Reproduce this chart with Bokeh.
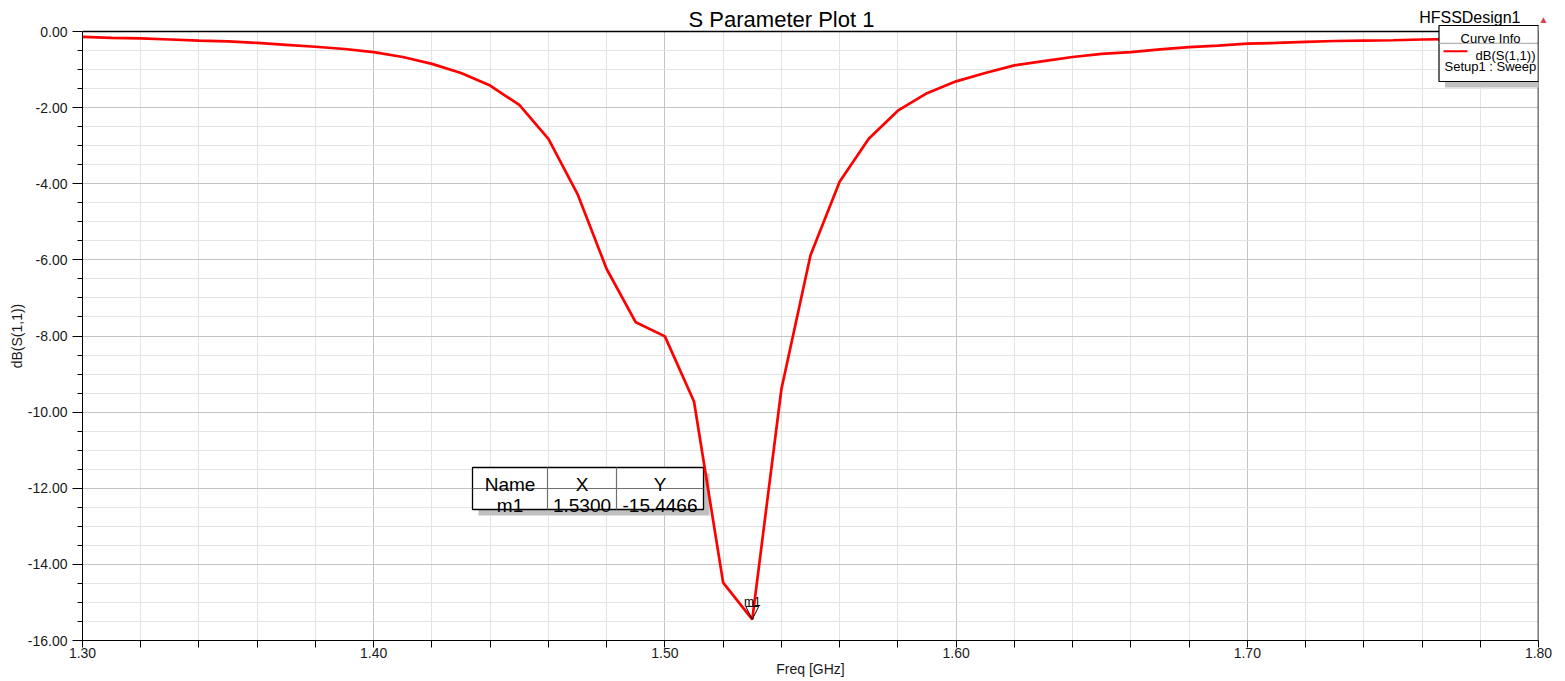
import math
from bokeh.plotting import figure
from bokeh.models import Range1d, FixedTicker, PrintfTickFormatter, Label
from bokeh.core.properties import value
from bokeh.embed import file_html
from bokeh.resources import INLINE

# ---------------- data ----------------
freq = [1.30, 1.31, 1.32, 1.33, 1.34, 1.35, 1.36, 1.37, 1.38, 1.39,
        1.40, 1.41, 1.42, 1.43, 1.44, 1.45, 1.46, 1.47, 1.48, 1.49,
        1.50, 1.51, 1.52, 1.53, 1.54, 1.55, 1.56, 1.57, 1.58, 1.59,
        1.60, 1.61, 1.62, 1.63, 1.64, 1.65, 1.66, 1.67, 1.68, 1.69,
        1.70, 1.71, 1.72, 1.73, 1.74, 1.75, 1.76, 1.77, 1.78, 1.79, 1.80]
s11_db = [-0.14, -0.17, -0.18, -0.21, -0.24, -0.26, -0.30, -0.35, -0.40, -0.46,
          -0.54, -0.67, -0.85, -1.09, -1.42, -1.93, -2.82, -4.27, -6.24, -7.64,
          -8.01, -9.72, -14.48, -15.4466, -9.40, -5.88, -3.95, -2.82, -2.08, -1.62,
          -1.31, -1.09, -0.89, -0.78, -0.67, -0.59, -0.54, -0.47, -0.41, -0.37,
          -0.32, -0.30, -0.27, -0.25, -0.24, -0.23, -0.21, -0.20, -0.19, -0.18, -0.17]

x_major_ticks = [1.30, 1.40, 1.50, 1.60, 1.70, 1.80]
x_minor_ticks = [1.32, 1.34, 1.36, 1.38, 1.42, 1.44, 1.46, 1.48, 1.52, 1.54, 1.56, 1.58,
                 1.62, 1.64, 1.66, 1.68, 1.72, 1.74, 1.76, 1.78]
y_major_ticks = [-16, -14, -12, -10, -8, -6, -4, -2, 0]
y_minor_ticks = [-15.5, -15, -14.5, -13.5, -13, -12.5, -11.5, -11, -10.5, -9.5, -9, -8.5,
                 -7.5, -7, -6.5, -5.5, -5, -4.5, -3.5, -3, -2.5, -1.5, -1, -0.5]

marker_name = "m1"
marker_freq = 1.53
marker_value = -15.4466
table_header = ["Name", "X", "Y"]
table_row = [marker_name, "%.4f" % marker_freq, "%.4f" % marker_value]

title_text = "S Parameter Plot 1"
design_text = "HFSSDesign1"
legend_title = "Curve Info"
curve_name = "dB(S(1,1))"
curve_setup = "Setup1 : Sweep"
x_label = "Freq [GHz]"
y_label = "dB(S(1,1))"

FONT = "Liberation Sans"
W, H = 1565, 681
BL, BR, BB = 82, 27, 41
AXT = 31                      # pixel row of the top of the axes box
X0, X1 = 1.30, 1.80
Y0, Y1 = -16.0, 0.0
FW = W - BL - BR
FH = H - BB                   # frame height (frame reaches the top edge)
AH = FH - AXT                 # height of the axes box in pixels
YTOP = Y1 + AXT * (Y1 - Y0) / AH


def px2x(px):
    return X0 + (px - BL) * (X1 - X0) / FW


def px2y(py):
    return Y1 - (py - AXT) * (Y1 - Y0) / AH


p = figure(width=W, height=H, output_backend="svg", toolbar_location=None,
           x_range=Range1d(X0, X1), y_range=Range1d(Y0, YTOP),
           min_border_left=BL, min_border_right=BR, min_border_top=0, min_border_bottom=BB)
p.title.visible = False
p.background_fill_color = "white"
p.border_fill_color = "white"
p.outline_line_color = None

xt = FixedTicker(ticks=x_major_ticks, minor_ticks=x_minor_ticks)
yt = FixedTicker(ticks=y_major_ticks, minor_ticks=y_minor_ticks)
p.xaxis.ticker = xt
p.yaxis.ticker = yt
p.xgrid.ticker = xt
p.ygrid.ticker = yt
p.xaxis.formatter = PrintfTickFormatter(format="%.2f")
p.yaxis.formatter = PrintfTickFormatter(format="%.2f")
p.yaxis.bounds = (Y0, Y1)

for g in (p.xgrid, p.ygrid):
    g.grid_line_color = "#c4c4c4"
    g.grid_line_width = 1
    g.minor_grid_line_color = "#e4e4e4"
    g.minor_grid_line_width = 1

for ax in (p.xaxis, p.yaxis):
    ax.axis_line_color = "black"
    ax.axis_line_width = 1
    ax.major_tick_line_color = "black"
    ax.minor_tick_line_color = "black"
    ax.major_tick_in = 0
    ax.minor_tick_in = 0
    ax.major_label_text_font = FONT
    ax.major_label_text_font_size = "14px"
    ax.major_label_text_color = "#1a1a1a"
    ax.axis_label_text_font = FONT
    ax.axis_label_text_font_size = "14px"
    ax.axis_label_text_font_style = "normal"
    ax.axis_label_text_color = "#1a1a1a"

p.xaxis.major_tick_out = 7
p.xaxis.minor_tick_out = 7
p.xaxis.major_label_standoff = 0
p.xaxis.axis_label = x_label
p.xaxis.axis_label_standoff = 0
p.yaxis.major_tick_out = 10
p.yaxis.minor_tick_out = 5
p.yaxis.major_label_standoff = 5

# y axis title, centred on the axes box (not on the taller frame)
p.add_layout(Label(x=8, y=FH - (AXT + AH / 2), x_units="screen", y_units="screen",
                   text=y_label, angle=math.pi / 2, text_font=FONT, text_font_size="14px",
                   text_align="center", text_baseline="middle", text_color="#1a1a1a"), "left")

# white band above the axes box (hides the grid there) + box top/right edges
p.quad(left=[X0], right=[X1], bottom=[Y1], top=[YTOP], fill_color="white", line_color=None)
p.segment(x0=[X0, X1], y0=[Y1, Y0], x1=[X1, X1], y1=[Y1, Y1], line_color="black", line_width=1.6)

# ---------------- marker table (under the curve) ----------------
tl, tr, tt, tb = 472, 703, 467, 509
tmid = 488
cols = [472, 547, 616, 703]
sh = 6
p.quad(left=[px2x(tl + sh)], right=[px2x(tr + sh)], top=[px2y(tt + sh)], bottom=[px2y(tb + sh)],
       fill_color="#c0c0c0", line_color=None)
p.quad(left=[px2x(tl)], right=[px2x(tr)], top=[px2y(tt)], bottom=[px2y(tb)],
       fill_color="white", line_color="black", line_width=1.3)
p.segment(x0=[px2x(tl), px2x(cols[1]), px2x(cols[2])],
          x1=[px2x(tr), px2x(cols[1]), px2x(cols[2])],
          y0=[px2y(tmid), px2y(tt), px2y(tt)],
          y1=[px2y(tmid), px2y(tb), px2y(tb)],
          line_color="#707070", line_width=1.2)
col_centers = [px2x((cols[i] + cols[i + 1]) / 2) for i in range(3)]
p.text(x=col_centers, y=[px2y(484)] * 3, text=table_header,
       text_font=value(FONT), text_font_size="19px", text_align="center",
       text_baseline="alphabetic", text_color="black")
p.text(x=col_centers, y=[px2y(505)] * 3, text=table_row,
       text_font=value(FONT), text_font_size="19px", text_align="center",
       text_baseline="alphabetic", text_color="black")

# ---------------- curve ----------------
p.line(freq, s11_db, line_color="#ff0000", line_width=2.7)

# ---------------- marker ----------------
dx = 6.5 * (X1 - X0) / FW
dy = 13 * (Y1 - Y0) / AH
mx = marker_freq
my = marker_value
p.patch(x=[mx - dx, mx + dx, mx], y=[my + dy, my + dy, my],
        fill_color=None, line_color="black", line_width=1)
p.text(x=[mx], y=[my + dy + 4 * (Y1 - Y0) / AH], text=[marker_name],
       text_font=value(FONT), text_font_size="12px", text_align="center",
       text_baseline="alphabetic", text_color="black")

# ---------------- title texts ----------------
p.text(x=[px2x(781)], y=[px2y(18.5)], text=[title_text],
       text_font=value(FONT), text_font_size="22px", text_align="center",
       text_baseline="alphabetic", text_color="black")
p.text(x=[px2x(1520)], y=[px2y(16.5)], text=[design_text],
       text_font=value(FONT), text_font_size="16px", text_align="right",
       text_baseline="alphabetic", text_color="black")
p.add_layout(Label(x=5, y=FH - 19, x_units="screen", y_units="screen",
                   text="\u25B2", text_font=FONT, text_font_size="10px",
                   text_align="center", text_baseline="alphabetic", text_color="#d84040"), "right")

# ---------------- curve info box ----------------
ll, lr, lt, lb = 1438.5, 1541, 25, 81
p.quad(left=[px2x(ll + 6)], right=[px2x(lr + 6)], top=[px2y(lt + 6)], bottom=[px2y(lb + 6)],
       fill_color="#c0c0c0", line_color=None)
p.quad(left=[px2x(ll)], right=[px2x(lr)], top=[px2y(lt)], bottom=[px2y(lb)],
       fill_color="white", line_color="black", line_width=1.2)
p.segment(x0=[px2x(ll)], x1=[px2x(lr)], y0=[px2y(42.8)], y1=[px2y(42.8)],
          line_color="#a0a0a0", line_width=1)
p.segment(x0=[px2x(1443)], x1=[px2x(1467)], y0=[px2y(50.7)], y1=[px2y(50.7)],
          line_color="#ff0000", line_width=2)
p.segment(x0=[X1], y0=[px2y(lb)], x1=[X1], y1=[px2y(lt)], line_color="black", line_width=1.6)
p.text(x=[px2x(1490)], y=[px2y(37.5)], text=[legend_title],
       text_font=value(FONT), text_font_size="13px", text_align="center",
       text_baseline="alphabetic", text_color="black")
p.text(x=[px2x(1535)], y=[px2y(55)], text=[curve_name],
       text_font=value(FONT), text_font_size="13px", text_align="right",
       text_baseline="alphabetic", text_color="black")
p.text(x=[px2x(1444)], y=[px2y(65.5)], text=[curve_setup],
       text_font=value(FONT), text_font_size="13px", text_align="left",
       text_baseline="alphabetic", text_color="black")

open("out.html", "w").write(file_html(p, INLINE))
